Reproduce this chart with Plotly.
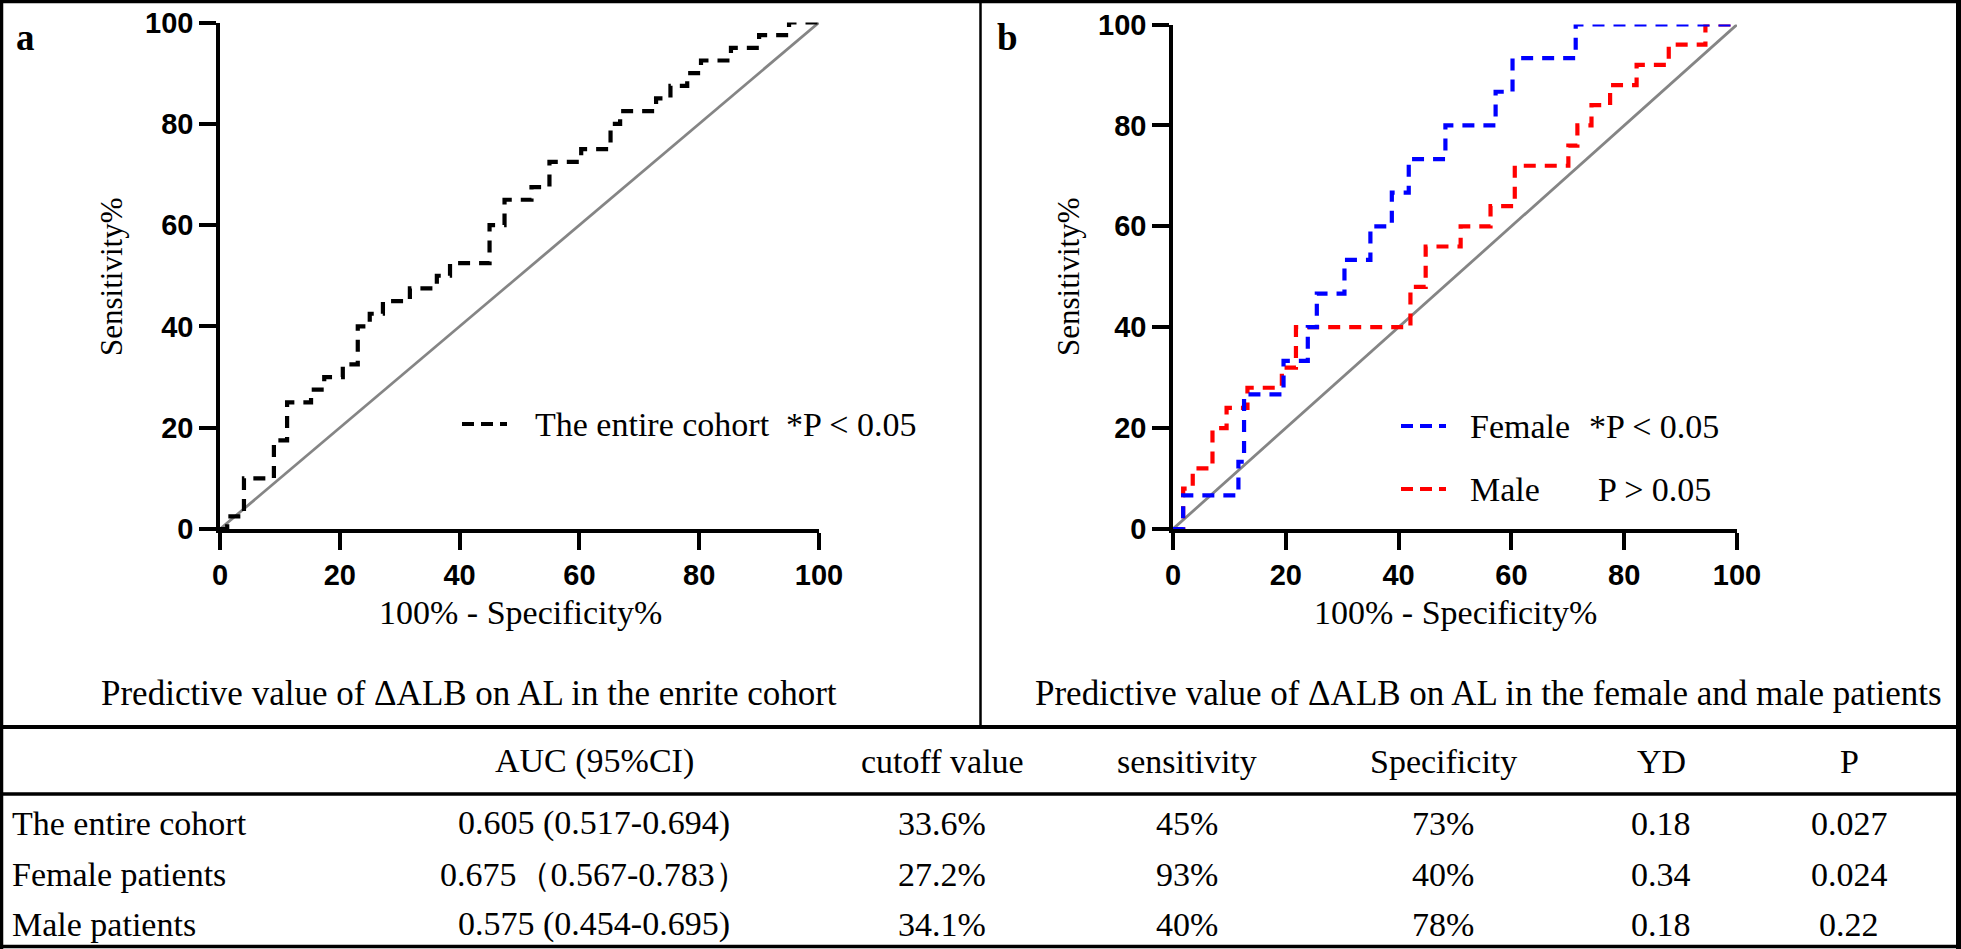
import plotly.graph_objects as go

W, H = 1961, 949

# ROC step points (100% - specificity, sensitivity)
fpr_all = [0, 1.2, 4, 9, 11.2, 15.2, 17.4, 20.5, 23, 25, 27.2, 31.7, 36.2, 38.4, 45, 47.5,
           52, 55, 60.3, 65.2, 66.8, 72.8, 75.2, 78, 80.3, 85.3, 90, 95, 100]
tpr_all = [0, 2.5, 10, 17.5, 25, 27.5, 30, 32.5, 40, 42.5, 45, 47.5, 50, 52.5, 60, 65,
           67.5, 72.5, 75, 80, 82.5, 85, 87.5, 90, 92.5, 95, 97.5, 100, 100]

fpr_female = [0, 1.8, 11.6, 12.6, 19.6, 23.9, 25.5, 30.4, 35, 38.8, 41.8, 48.3, 57.2, 60.2, 71.4, 100]
tpr_female = [0, 6.67, 13.33, 26.67, 33.33, 40, 46.67, 53.33, 60, 66.67, 73.33, 80, 86.67, 93.33, 100, 100]

fpr_male = [0, 1.8, 3.5, 7, 9.5, 13.2, 19.3, 21.8, 42.1, 44.8, 51, 56.3, 60.6, 70.1, 71.7,
            74.2, 77.5, 82.2, 87.9, 94.4, 100]
tpr_male = [0, 8, 12, 20, 24, 28, 32, 40, 48, 56, 60, 64, 72, 76, 80,
            84, 88, 92, 96, 100, 100]

ref_line = [0, 100]
ticks = [0, 20, 40, 60, 80, 100]

# table
tbl_header = ["AUC (95%CI)", "cutoff value", "sensitivity", "Specificity", "YD", "P"]
tbl_groups = ["The entire cohort", "Female patients", "Male patients"]
tbl_auc = ["0.605 (0.517-0.694)", "0.675（0.567-0.783）", "0.575 (0.454-0.695)"]
tbl_cutoff = ["33.6%", "27.2%", "34.1%"]
tbl_sens = ["45%", "93%", "40%"]
tbl_spec = ["73%", "40%", "78%"]
tbl_yd = ["0.18", "0.34", "0.18"]
tbl_p = ["0.027", "0.024", "0.22"]

SERIF = "Liberation Serif, Times New Roman, serif"
SANS = "Liberation Sans, Arial, sans-serif"


def px(x):
    return x / W


def py(y):
    return 1 - y / H


fig = go.Figure()

# panel a
fig.add_trace(go.Scatter(x=ref_line, y=ref_line, mode="lines",
                         line=dict(color="#858585", width=2.8), xaxis="x", yaxis="y"))
fig.add_trace(go.Scatter(x=fpr_all, y=tpr_all, mode="lines", line_shape="hv", cliponaxis=False,
                         line=dict(color="black", width=4.2, dash="12px,9px"), xaxis="x", yaxis="y"))

# panel b
fig.add_trace(go.Scatter(x=ref_line, y=ref_line, mode="lines",
                         line=dict(color="#858585", width=2.8), xaxis="x2", yaxis="y2"))
fig.add_trace(go.Scatter(x=fpr_male, y=tpr_male, mode="lines", line_shape="hv", cliponaxis=False,
                         line=dict(color="#ff0000", width=4.2, dash="12px,9px"), xaxis="x2", yaxis="y2"))
fig.add_trace(go.Scatter(x=fpr_female, y=tpr_female, mode="lines", line_shape="hv", cliponaxis=False,
                         line=dict(color="#0000ff", width=4.2, dash="12px,9px"), xaxis="x2", yaxis="y2"))

axis_style = dict(
    range=[0, 100], tickvals=ticks, showgrid=False, zeroline=False, automargin=False,
    showline=True, linecolor="black", linewidth=3.5,
    ticks="outside", ticklen=17, tickwidth=3.5, tickcolor="black",
    tickfont=dict(family=SANS, size=29, color="black", weight="bold"),
)

fig.update_layout(
    template="none",
    width=W, height=H,
    margin=dict(l=0, r=0, t=0, b=0, pad=0, autoexpand=False),
    paper_bgcolor="white", plot_bgcolor="white",
    showlegend=False,
    xaxis=dict(axis_style, domain=[px(220), px(819)], anchor="y"),
    yaxis=dict(axis_style, domain=[py(529), py(22.5)], anchor="x"),
    xaxis2=dict(axis_style, domain=[px(1173), px(1737)], anchor="y2"),
    yaxis2=dict(axis_style, domain=[py(529), py(24.5)], anchor="x2"),
)

shapes = []


# frame and table rules
def hline(y, x0, x1, w):
    shapes.append(dict(type="line", xref="paper", yref="paper", x0=px(x0), x1=px(x1),
                       y0=py(y), y1=py(y), line=dict(color="black", width=w)))


def vline(x, y0, y1, w):
    shapes.append(dict(type="line", xref="paper", yref="paper", x0=px(x), x1=px(x),
                       y0=py(y0), y1=py(y1), line=dict(color="black", width=w)))


hline(1.5, 0, W, 3.5)
hline(727, 0, W, 4)
hline(794, 0, W, 3.5)
hline(946.5, 0, W, 3.5)
vline(1.5, 0, 949, 3.5)
vline(1958.5, 0, 949, 5)
vline(980.5, 0, 727, 2.5)


# legend samples
def sample(x0, x1, y, color):
    shapes.append(dict(type="line", xref="paper", yref="paper", x0=px(x0), x1=px(x1),
                       y0=py(y), y1=py(y), line=dict(color=color, width=4.2, dash="12px,7px")))


sample(462, 507, 424, "black")
sample(1401, 1446, 426, "#0000ff")
sample(1401, 1446, 489, "#ff0000")
fig.update_layout(shapes=shapes)


def text(x, y, s, size=33, anchor="left", bold=False, angle=0):
    fig.add_annotation(x=px(x), y=py(y), xref="paper", yref="paper", text=s, showarrow=False,
                       xanchor=anchor, yanchor="middle", textangle=angle,
                       font=dict(family=SERIF, size=size, color="black",
                                 weight="bold" if bold else "normal"))


text(14, 38, "a", size=37, bold=True)
text(995, 38, "b", size=37, bold=True)

# axis titles
text(520, 612, "100% - Specificity%", size=34, anchor="center")
text(1455, 612, "100% - Specificity%", size=34, anchor="center")
text(111, 277, "Sensitivity%", size=31, anchor="center", angle=-90)
text(1068, 277, "Sensitivity%", size=31, anchor="center", angle=-90)

# legends
text(533, 424, "The entire cohort  *P < 0.05", size=34)
text(1468, 426, "Female", size=34)
text(1587, 426, "*P < 0.05", size=34)
text(1468, 489, "Male", size=34)
text(1596, 489, "P > 0.05", size=34)

# panel captions
text(469, 693, "Predictive value of ΔALB on AL in the enrite cohort", size=35, anchor="center")
text(1488, 693, "Predictive value of ΔALB on AL in the female and male patients", size=35, anchor="center")

# table
col_x = [594, 942, 1187, 1443, 1661, 1849]
row_y = [823, 874, 924]
for cx, h in zip(col_x, tbl_header):
    text(cx, 761, h, size=34, anchor="center")
cols = [tbl_auc, tbl_cutoff, tbl_sens, tbl_spec, tbl_yd, tbl_p]
for i, ry in enumerate(row_y):
    text(10, ry, tbl_groups[i], size=34)
    for cx, col in zip(col_x, cols):
        text(cx, ry, col[i], size=34, anchor="center")

# page body has a default 8px margin; drop it so the figure sits at the window corner
fig.write_html("out.html", config={"displayModeBar": False},
               post_script="document.body.style.margin='0';")
